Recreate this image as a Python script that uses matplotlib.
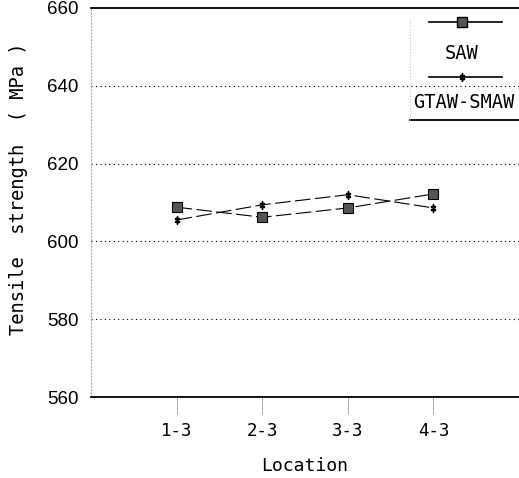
import matplotlib.pyplot as plt

# tensile strength at each location (MPa)
locations = ['1-3', '2-3', '3-3', '4-3']
saw = [608.8, 606.2, 608.6, 612.2]
gtaw_smaw = [605.5, 609.4, 612.0, 608.6]
labels = ['SAW', 'GTAW-SMAW']

mono = 'DejaVu Sans Mono'
sans = 'Liberation Sans'

fig = plt.figure(figsize=(5.19, 4.78), dpi=100)
ax = fig.add_axes([91 / 519, 1 - 397 / 478, 1 - 91 / 519, (397 - 8) / 478])

x = range(1, len(locations) + 1)
ax.plot(x, saw, color='black', lw=0.8, ls=(0, (14, 4)), marker='s', ms=6.5,
        mfc='#555555', mec='black', mew=0.8, zorder=3)
ax.plot(x, gtaw_smaw, color='black', lw=0.8, ls=(0, (14, 4)), marker=r'$\ddagger$',
        ms=6, mec='black', zorder=3)

ax.set_xlim(0, 5)
ax.set_ylim(560, 660)
ax.set_yticks([560, 580, 600, 620, 640, 660])
ax.set_yticklabels([str(v) for v in ax.get_yticks().astype(int)], fontfamily=sans, fontsize=13.5)
ax.set_xticks(list(x))
ax.set_xticklabels(locations, fontfamily=mono, fontsize=12.5)
ax.tick_params(axis='y', length=0, pad=9)
ax.tick_params(axis='x', direction='out', length=12, width=0.6, color='#999999', pad=6)

for v in [580, 600, 620, 640]:
    ax.axhline(v, color='black', lw=0.8, ls=(0, (1, 3)), zorder=1)

ax.spines['right'].set_visible(False)
ax.spines['left'].set_linestyle((0, (1, 2)))
ax.spines['left'].set_color('#aaaaaa')
ax.spines['top'].set_linewidth(1.3)
ax.spines['bottom'].set_linewidth(1.3)

ax.set_xlabel('Location', fontfamily=mono, fontsize=13, labelpad=12)
ax.set_ylabel('Tensile  strength  ( MPa )', fontfamily=mono, fontsize=13.5)
ax.yaxis.set_label_coords(-0.147, 0.535)

# legend drawn by hand: sample line above its label
tr = ax.transAxes
ax.plot([0.79, 0.96], [0.964, 0.964], color='black', lw=1.2, transform=tr, clip_on=False)
ax.plot([0.867], [0.964], marker='s', ms=6.5, mfc='#555555', mec='black', transform=tr, clip_on=False)
ax.text(0.867, 0.884, labels[0], ha='center', va='center', fontfamily=mono,
        fontsize=13.5, transform=tr)
ax.plot([0.79, 0.96], [0.823, 0.823], color='black', lw=1.2, transform=tr, clip_on=False)
ax.plot([0.867], [0.823], marker=r'$\ddagger$', ms=6, mec='black', color='black',
        transform=tr, clip_on=False)
ax.text(0.87, 0.756, labels[1], ha='center', va='center', fontfamily=mono,
        fontsize=13.5, transform=tr)
ax.plot([0.745, 1.0], [0.712, 0.712], color='black', lw=1.3, transform=tr, clip_on=False)
ax.plot([0.745, 0.745], [0.712, 0.97], color='#bbbbbb', lw=0.7, ls=(0, (1, 2)), transform=tr)

fig.savefig('out.png', dpi=100)
